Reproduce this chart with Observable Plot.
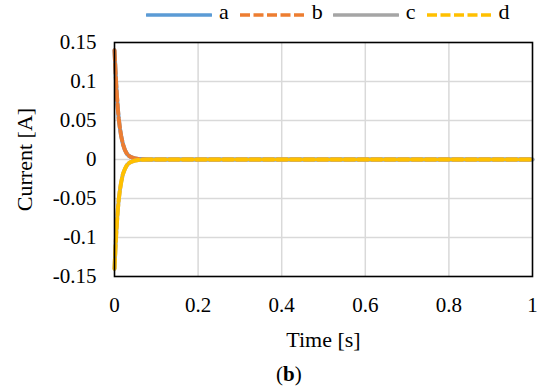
<!DOCTYPE html>
<html>
<head>
<meta charset="utf-8">
<script src="https://cdn.jsdelivr.net/npm/d3@7"></script>
<script src="https://cdn.jsdelivr.net/npm/@observablehq/plot@0.6"></script>
<style>
  html, body { margin: 0; padding: 0; background: white; }
  body { width: 550px; height: 389px; overflow: hidden; font-family: "Liberation Serif", "Times New Roman", Times, "DejaVu Serif", serif; }
  #legend { height: 30px; display: flex; align-items: center; padding-left: 146px; font-size: 22px; }
  #legend .item { display: flex; align-items: center; margin-right: 10px; }
  #legend .item span { margin-left: 7px; line-height: 1; position: relative; top: -3px; }
  #caption { text-align: left; padding-left: 276px; font-size: 21px; line-height: 24px; margin-top: 10px; }
  #chart svg text { font-family: "Liberation Serif", "Times New Roman", Times, "DejaVu Serif", serif; }
</style>
</head>
<body>
<div id="legend"></div>
<div id="chart"></div>
<div id="caption">(<b>b</b>)</div>
<script>
// Data
const seriesNames = ["a", "b", "c", "d"];
const seriesColors = ["#5B9BD5", "#ED7D31", "#A5A5A5", "#FFC000"];
const seriesDashed = [false, true, false, true];
const time = [0, 0.002, 0.004, 0.006, 0.008, 0.01, 0.013, 0.016, 0.02, 0.025, 0.03, 0.035, 0.04, 0.05, 0.06, 0.08, 0.1, 0.2, 0.3, 0.4, 0.5, 0.6, 0.7, 0.8, 0.9, 1.0];
const aValues = [0.14, 0.118, 0.097, 0.08, 0.065, 0.053, 0.04, 0.03, 0.02, 0.012, 0.007, 0.0045, 0.003, 0.0012, 0.0005, 0.0001, 0, 0, 0, 0, 0, 0, 0, 0, 0, 0];
const bValues = [0.14, 0.118, 0.097, 0.08, 0.065, 0.053, 0.04, 0.03, 0.02, 0.012, 0.007, 0.0045, 0.003, 0.0012, 0.0005, 0.0001, 0, 0, 0, 0, 0, 0, 0, 0, 0, 0];
const cValues = [-0.14, -0.117, -0.096, -0.079, -0.064, -0.052, -0.039, -0.029, -0.019, -0.012, -0.007, -0.0045, -0.003, -0.0012, -0.0005, -0.0001, 0, 0, 0, 0, 0, 0, 0, 0, 0, 0];
const dValues = [-0.14, -0.117, -0.096, -0.079, -0.064, -0.052, -0.039, -0.029, -0.019, -0.012, -0.007, -0.0045, -0.003, -0.0012, -0.0005, -0.0001, 0, 0, 0, 0, 0, 0, 0, 0, 0, 0];
const xTicks = [0, 0.2, 0.4, 0.6, 0.8, 1];
const yTicks = [-0.15, -0.1, -0.05, 0, 0.05, 0.1, 0.15];
const xLabel = "Time [s]";
const yLabel = "Current [A]";

const allValues = [aValues, bValues, cValues, dValues];
const rows = [];
seriesNames.forEach((s, i) => {
  time.forEach((t, j) => rows.push({series: s, t, v: allValues[i][j]}));
});

// Legend
const legend = document.getElementById("legend");
seriesNames.forEach((s, i) => {
  const item = document.createElement("div");
  item.className = "item";
  const ns = "http://www.w3.org/2000/svg";
  const svg = document.createElementNS(ns, "svg");
  svg.setAttribute("width", 66); svg.setAttribute("height", 8);
  const ln = document.createElementNS(ns, "line");
  ln.setAttribute("x1", 1); ln.setAttribute("x2", 65);
  ln.setAttribute("y1", 4); ln.setAttribute("y2", 4);
  ln.setAttribute("stroke", seriesColors[i]);
  ln.setAttribute("stroke-width", 3.5);
  if (seriesDashed[i]) ln.setAttribute("stroke-dasharray", "10,3.5");
  else ln.setAttribute("stroke-linecap", "round");
  svg.appendChild(ln);
  item.appendChild(svg);
  const sp = document.createElement("span");
  sp.textContent = s;
  item.appendChild(sp);
  legend.appendChild(item);
});

const fmt = d => String(+d.toFixed(2));
const serif = "'Liberation Serif', 'Times New Roman', Times, 'DejaVu Serif', serif";

const chart = Plot.plot({
  width: 550,
  height: 322,
  marginTop: 12,
  marginLeft: 114,
  marginRight: 18,
  marginBottom: 76,
  style: {fontFamily: serif, fontSize: "21px", color: "black", background: "white", overflow: "visible"},
  x: {domain: [0, 1]},
  y: {domain: [-0.15, 0.15]},
  marks: [
    Plot.gridX(xTicks.slice(1, -1), {stroke: "#d9d9d9", strokeOpacity: 1, strokeWidth: 1.5}),
    Plot.gridY(yTicks.slice(1, -1), {stroke: "#d9d9d9", strokeOpacity: 1, strokeWidth: 1.5}),
    ...seriesNames.map((s, i) => Plot.line(rows.filter(r => r.series === s), {
      x: "t", y: "v", stroke: seriesColors[i], strokeWidth: 4,
      strokeDasharray: seriesDashed[i] ? "10,3.5" : null,
      strokeLinejoin: "round"
    })),
    Plot.frame({stroke: "black", strokeWidth: 1.6}),
    Plot.axisX(xTicks, {tickSize: 0, tickPadding: 21, tickFormat: fmt, label: null, fontSize: 21}),
    Plot.axisX({tickSize: 0, ticks: [], label: xLabel, labelAnchor: "center", labelArrow: "none", labelOffset: 70, fontSize: 22}),
    Plot.axisY(yTicks, {tickSize: 0, tickPadding: 18, tickFormat: fmt, label: null, fontSize: 21}),
    Plot.axisY({tickSize: 0, ticks: [], label: yLabel, labelAnchor: "center", labelArrow: "none", labelOffset: 98, fontSize: 22})
  ]
});
document.getElementById("chart").appendChild(chart);
</script>
</body>
</html>
